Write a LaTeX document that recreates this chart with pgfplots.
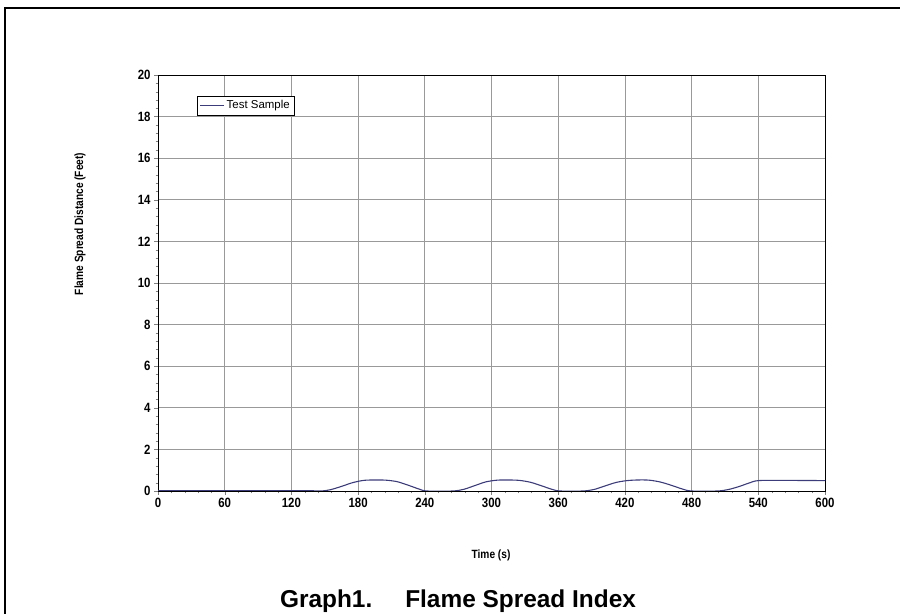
\documentclass[border=0pt]{standalone}
\usepackage{fontspec}
\setmainfont{Liberation Sans}
\newfontfamily\narrowfont[FakeStretch=0.85]{Liberation Sans}
\usepackage{pgfplots}
\pgfplotsset{compat=1.18}
\usepackage{pgfplotstable}

\definecolor{sample}{HTML}{3C3C7A}

% flame front position
\pgfplotstableread{
t d
0 0.02
60 0.02
120 0.02
140 0.01
147 0.00
155 0.06
165 0.22
175 0.40
185 0.51
195 0.53
205 0.52
215 0.45
225 0.28
235 0.09
242 0.00
265 0.00
275 0.08
285 0.26
295 0.44
305 0.52
315 0.53
325 0.51
335 0.42
345 0.25
355 0.07
362 0.00
382 0.00
392 0.07
402 0.24
412 0.41
422 0.50
432 0.53
442 0.52
452 0.43
462 0.27
472 0.09
480 0.00
503 0.00
513 0.07
523 0.22
532 0.39
540 0.50
560 0.51
600 0.50
}\flamedata

\begin{document}
\begin{tikzpicture}
\useasboundingbox (0,0) rectangle (905bp,614bp);
\draw[line width=2.5bp] (5bp,0) -- (5bp,606bp) -- (900bp,606bp);
\begin{axis}[
    at={(158bp,123bp)}, anchor=south west,
    scale only axis,
    width=667bp, height=416bp,
    xmin=0, xmax=600, ymin=0, ymax=20,
    xtick={0,60,...,600}, ytick={0,2,...,20},
    minor x tick num=4, minor y tick num=4,
    xtick pos=bottom, ytick pos=left,
    tick align=outside,
    major tick length=4bp, minor tick length=2.5bp,
    grid=major,
    major grid style={color=black!40, line width=0.8bp},
    axis line style={line width=0.9bp},
    /pgf/number format/assume math mode=true,
    tick label style={font=\narrowfont\bfseries\fontsize{13.5}{14}\selectfont},
    legend style={at={(axis description cs:0.058,0.95)}, anchor=north west,
        draw=black, line width=0.8bp, font=\fontsize{11.5}{13}\selectfont,
        inner sep=2.5bp},
    legend image code/.code={\draw[#1] (0bp,0bp) -- (24bp,0bp);},
    legend cell align=left,
]
\addplot[color=sample, line width=1.1bp, smooth, tension=0.5] table[x=t, y=d] {\flamedata};
\addlegendentry{Test Sample}
\end{axis}
\node[font=\narrowfont\bfseries\fontsize{12}{14}\selectfont] at (491bp,59bp) {Time (s)};
\node[font=\narrowfont\bfseries\fontsize{12}{14}\selectfont, rotate=90] at (80bp,390bp) {Flame Spread Distance (Feet)};
\node[font=\bfseries\fontsize{24.5}{26}\selectfont, anchor=base] at (458bp,7bp) {Graph1.\hspace{33bp}Flame Spread Index};
\end{tikzpicture}
\end{document}
